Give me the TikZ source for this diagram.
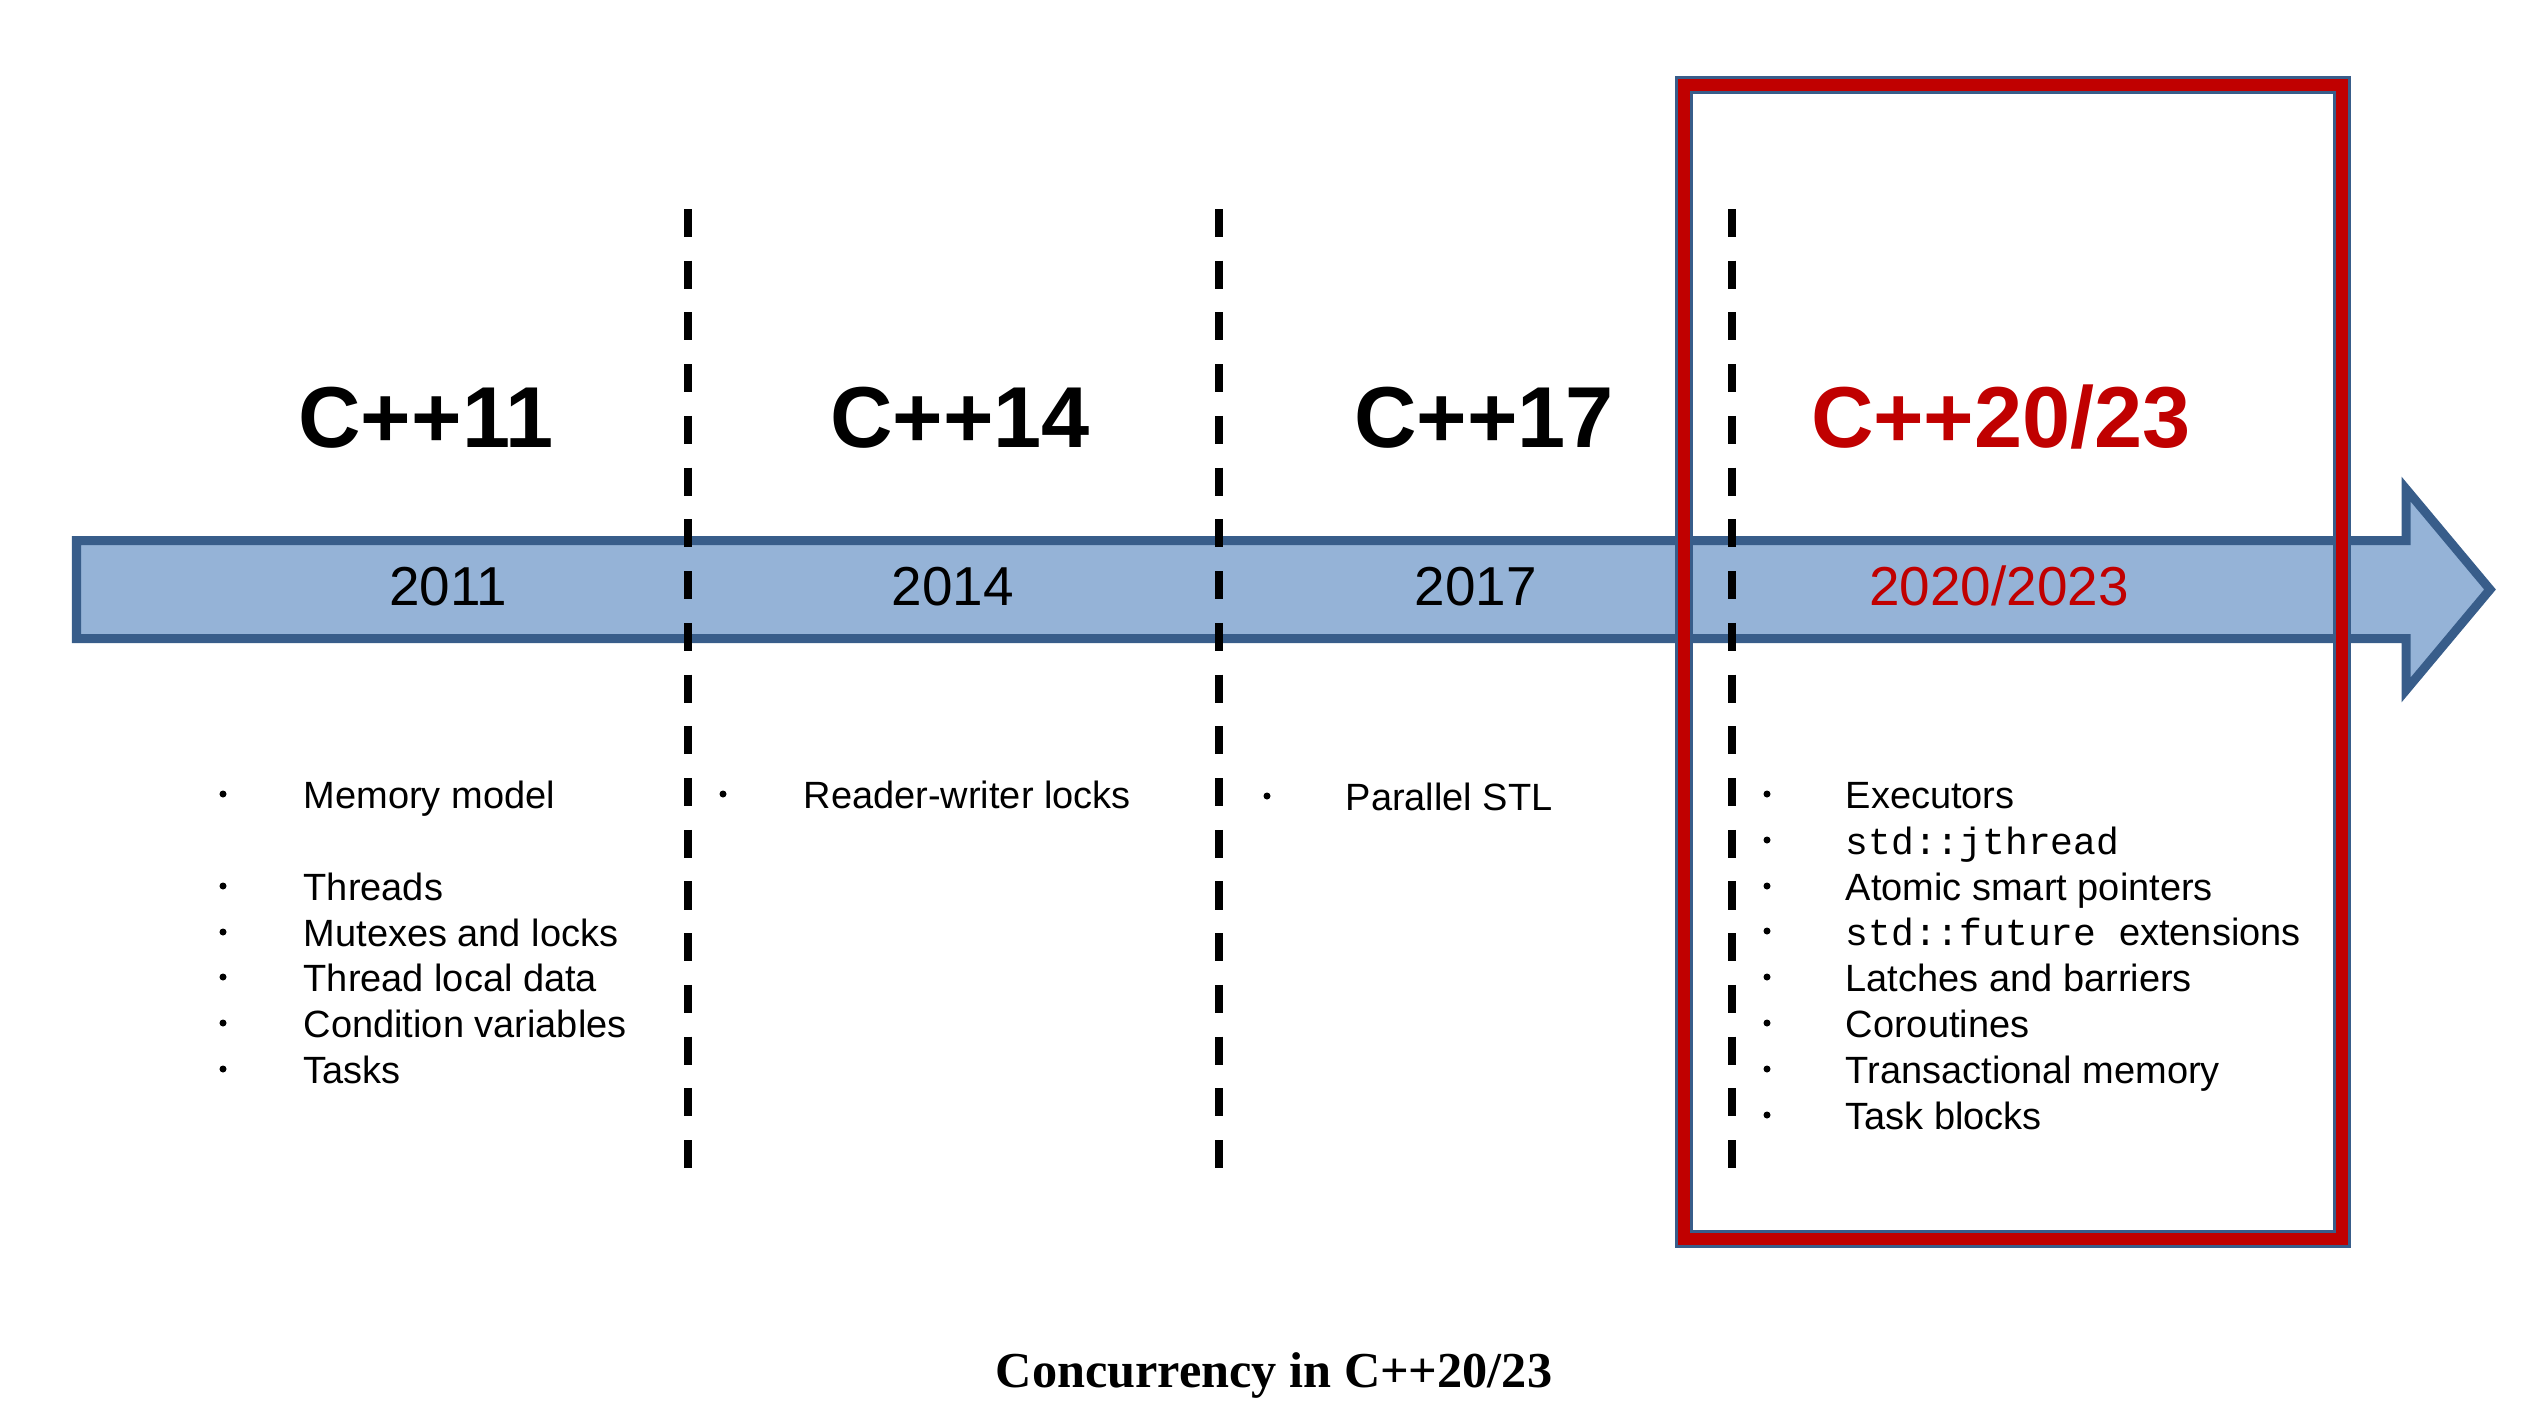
\documentclass[tikz,border=0pt]{standalone}
\usepackage{fontspec}
\setmainfont{Liberation Sans}
\setmonofont{Liberation Mono}
\newfontfamily\captionfont{Liberation Serif}
\usepackage{xcolor}
\usepackage{tikz}
\usetikzlibrary{positioning}
\definecolor{bandfill}{HTML}{95B3D7}
\definecolor{bandline}{HTML}{385D8A}
\definecolor{hired}{HTML}{C00000}
\tikzset{
	release/.style={font=\fontsize{24.6}{28}\selectfont\bfseries, anchor=base, inner sep=0pt},
	year/.style={font=\fontsize{15.6}{18}\selectfont, anchor=base, inner sep=0pt},
	item/.style={font=\fontsize{10.8}{13}\selectfont, anchor=base west, inner sep=0pt},
	bul/.style={circle, fill=black, inner sep=0pt, minimum size=0.07cm},
	divider/.style={line width=2.48pt, dash pattern=on 0.28cm off 0.237cm},
}

\begin{document}
\begin{tikzpicture}[x=0.01cm, y=-0.01cm]
			\useasboundingbox (0, 0) rectangle (2538, 1412);
			% Time band and dividers:
			\draw[bandline, fill=bandfill, line width=2.56pt] (76.5, 540.5) -- (2406, 540.5) -- (2406, 489) -- (2490, 589.5) -- (2406, 690) -- (2406, 638.5) -- (76.5, 638.5) -- cycle;
			\draw[divider] (688, 209) -- (688, 1169);
			\draw[divider] (1219, 209) -- (1219, 1169);
			\draw[divider] (1732, 209) -- (1732, 1169);
			\draw[bandline, line width=5.1pt] (1684, 85) rectangle (2342, 1239);
			\draw[hired, line width=3.4pt] (1684, 85) rectangle (2342, 1239);
			% Releases and years:
			\node[release] (C11) at (426, 447){C++11};
			\node[release] (C14) at (960, 447){C++14};
			\node[release] (C17) at (1484, 447){C++17};
			\node[release, text=hired] (C20) at (2001, 447){C++20/23};
			\node[year] (Y11) at (448, 605){2011};
			\node[year] (Y14) at (953, 605){2014};
			\node[year] (Y17) at (1476, 605){2017};
			\node[year, text=hired] (Y20) at (1999, 605){2020/2023};
			% C++11 features
			\node[bul] (B11a) at (223, 794){};
			\node[item] (T11a) at (303, 808){Memory model};
			\node[bul] (B11b) at (223, 886){};
			\node[item] (T11b) at (303, 900){Threads};
			\node[bul] (B11c) at (223, 932){};
			\node[item] (T11c) at (303, 946){Mutexes and locks};
			\node[bul] (B11d) at (223, 977){};
			\node[item] (T11d) at (303, 991){Thread local data};
			\node[bul] (B11e) at (223, 1023){};
			\node[item] (T11e) at (303, 1037){Condition variables};
			\node[bul] (B11f) at (223, 1069){};
			\node[item] (T11f) at (303, 1083){Tasks};
			% C++14 and C++17 features
			\node[bul] (B14a) at (723, 794){};
			\node[item] (T14a) at (803, 808){Reader-writer locks};
			\node[bul] (B17a) at (1267, 796){};
			\node[item] (T17a) at (1345, 810){Parallel STL};
			% C++20/23 features
			\node[bul] (B20a) at (1767, 794){};
			\node[item] (T20a) at (1845, 808){Executors};
			\node[bul] (B20b) at (1767, 840){};
			\node[item] (T20b) at (1845, 854){\ttfamily std::jthread};
			\node[bul] (B20c) at (1767, 886){};
			\node[item] (T20c) at (1845, 900){Atomic smart pointers};
			\node[bul] (B20d) at (1767, 931){};
			\node[item] (T20d) at (1845, 945){{\ttfamily std::future }extensions};
			\node[bul] (B20e) at (1767, 977){};
			\node[item] (T20e) at (1845, 991){Latches and barriers};
			\node[bul] (B20f) at (1767, 1023){};
			\node[item] (T20f) at (1845, 1037){Coroutines};
			\node[bul] (B20g) at (1767, 1069){};
			\node[item] (T20g) at (1845, 1083){Transactional memory};
			\node[bul] (B20h) at (1767, 1115){};
			\node[item] (T20h) at (1845, 1129){Task blocks};
			% Caption
			\node[anchor=base, inner sep=0pt, font=\captionfont\bfseries\fontsize{14.3}{17}\selectfont] (Cap) at (1274, 1387){Concurrency in C++20/23};
		\end{tikzpicture}
\end{document}
